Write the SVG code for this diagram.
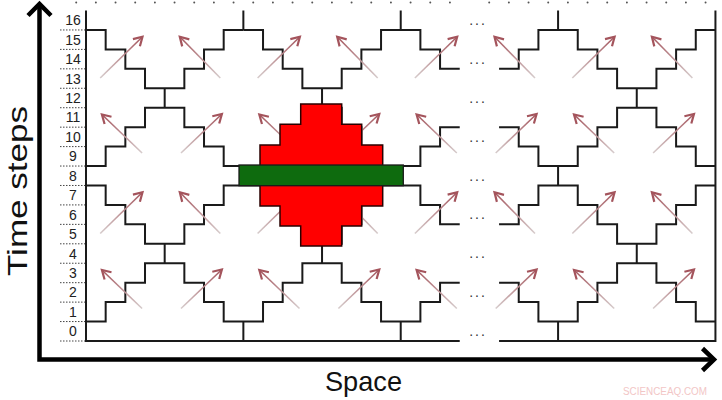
<svg xmlns="http://www.w3.org/2000/svg" width="722" height="400" viewBox="0 0 722 400">
<style>
.lat{fill:none;stroke:#1a1a1a;stroke-width:2;vector-effect:non-scaling-stroke;stroke-linejoin:miter}
.ax{fill:none;stroke:#000;stroke-width:4.5;stroke-linejoin:miter}
.num{font-family:"Liberation Sans",Arial,sans-serif;font-size:14px;fill:#222;text-anchor:middle}
.ell{font-family:"Liberation Sans",Arial,sans-serif;font-size:14px;fill:#333;text-anchor:middle;letter-spacing:2px}
.big{font-family:"Liberation Sans",Arial,sans-serif;font-size:28px;fill:#111}
.ur{stroke:url(#gUR);stroke-width:1.6;marker-end:url(#ah)}
.ul{stroke:url(#gUL);stroke-width:1.6;marker-end:url(#ah)}
</style>
<defs>
<linearGradient id="gUR" x1="0" y1="1" x2="1" y2="0"><stop offset="0" stop-color="#d6cccc"/><stop offset="1" stop-color="#a4545c"/></linearGradient>
<linearGradient id="gUL" x1="1" y1="1" x2="0" y2="0"><stop offset="0" stop-color="#d6cccc"/><stop offset="1" stop-color="#a4545c"/></linearGradient>
<marker id="ah" markerUnits="userSpaceOnUse" viewBox="-12 -7 14 14" refX="0" refY="0" markerWidth="14" markerHeight="14" orient="auto" overflow="visible">
<path d="M-8.5,-5 L0,0 L-8.5,5" fill="none" stroke="#a4545c" stroke-width="2.2"/>
</marker>
</defs>
<rect width="722" height="400" fill="#fff"/>

<g id="top-dots" stroke="#555" stroke-width="2" stroke-linecap="round">
<line x1="76.2" y1="2.5" x2="450" y2="2.5" stroke-dasharray="0 19.67"/>
<line x1="489.2" y1="2.5" x2="706" y2="2.5" stroke-dasharray="0 19.67"/>
</g>

<g id="row-labels">
<path d="M60,341H86M60,321.56H86M60,302.12H86M60,282.68H86M60,263.24H86M60,243.8H86M60,224.36H86M60,204.92H86M60,185.48H86M60,166.04H86M60,146.6H86M60,127.16H86M60,107.72H86M60,88.28H86M60,68.84H86M60,49.4H86M60,29.96H86" stroke="#444" stroke-width="1" stroke-dasharray="1.5 1.5" fill="none"/>
<text class="num" x="73" y="336.3">0</text>
<text class="num" x="73" y="316.8">1</text>
<text class="num" x="73" y="297.4">2</text>
<text class="num" x="73" y="278">3</text>
<text class="num" x="73" y="258.5">4</text>
<text class="num" x="73" y="239.1">5</text>
<text class="num" x="73" y="219.6">6</text>
<text class="num" x="73" y="200.2">7</text>
<text class="num" x="73" y="180.8">8</text>
<text class="num" x="73" y="161.3">9</text>
<text class="num" x="73" y="141.9">10</text>
<text class="num" x="73" y="122.4">11</text>
<text class="num" x="73" y="103">12</text>
<text class="num" x="73" y="83.6">13</text>
<text class="num" x="73" y="64.1">14</text>
<text class="num" x="73" y="44.7">15</text>
<text class="num" x="73" y="25.2">16</text>
</g>

<g id="lattice" transform="translate(86,341) scale(19.67,-19.44)">
<path class="lat" d="M0,16h1v-1h1v-1h1v-1h2v1h1v1h1v1h1M8,16h1v-1h1v-1h1v-1h2v1h1v1h1v1h1M24,16h1v-1h1v-1h1v-1h2v1h1v1h1v1h1
M0,9h1v1h1v1h1v1h2v-1h1v-1h1v-1h1M8,9h1v1h1v1h1v1h2v-1h1v-1h1v-1h1M24,9h1v1h1v1h1v1h2v-1h1v-1h1v-1h1
M0,8h1v-1h1v-1h1v-1h2v1h1v1h1v1h1M8,8h1v-1h1v-1h1v-1h2v1h1v1h1v1h1M24,8h1v-1h1v-1h1v-1h2v1h1v1h1v1h1
M0,1h1v1h1v1h1v1h2v-1h1v-1h1v-1h1M8,1h1v1h1v1h1v1h2v-1h1v-1h1v-1h1M24,1h1v1h1v1h1v1h2v-1h1v-1h1v-1h1
M16,16h1v-1h1v-1h1M21,14h1v1h1v1h1
M16,9h1v1h1v1h1M21,11h1v-1h1v-1h1
M16,8h1v-1h1v-1h1M21,6h1v1h1v1h1
M16,1h1v1h1v1h1M21,3h1v-1h1v-1h1
M4,12v1M12,12v1M28,12v1M4,4v1M12,4v1M28,4v1
M8,0v1M16,0v1M24,0v1M8,8v1M16,8v1M24,8v1M8,16v1M16,16v1M24,16v1
M0,17V0H19M21,0H32V17"/>
</g>

<g id="ellipses">
<text class="ell" x="478" y="25">...</text>
<text class="ell" x="478" y="63.8">...</text>
<text class="ell" x="478" y="102.7">...</text>
<text class="ell" x="478" y="141.6">...</text>
<text class="ell" x="478" y="180.5">...</text>
<text class="ell" x="478" y="219.3">...</text>
<text class="ell" x="478" y="258.2">...</text>
<text class="ell" x="478" y="297.1">...</text>
<text class="ell" x="478" y="336">...</text>
</g>

<g id="arrows">
<line class="ur" x1="100.2" y1="78" x2="142.5" y2="36.8"/>
<line class="ul" x1="220.3" y1="78" x2="179.8" y2="36.8"/>
<line class="ul" x1="142.1" y1="153" x2="101.9" y2="114.5"/>
<line class="ur" x1="181" y1="153" x2="221.9" y2="114"/>
<line class="ur" x1="100.2" y1="233.5" x2="142.5" y2="192.3"/>
<line class="ul" x1="220.3" y1="233.5" x2="179.8" y2="192.3"/>
<line class="ul" x1="142.1" y1="308.5" x2="101.9" y2="270"/>
<line class="ur" x1="181" y1="308.5" x2="221.9" y2="269.5"/>

<line class="ur" x1="257.6" y1="78" x2="299.9" y2="36.8"/>
<line class="ul" x1="377.7" y1="78" x2="337.2" y2="36.8"/>
<line class="ul" x1="299.5" y1="153" x2="259.3" y2="114.5"/>
<line class="ur" x1="338.4" y1="153" x2="379.3" y2="114"/>
<line class="ur" x1="257.6" y1="233.5" x2="299.9" y2="192.3"/>
<line class="ul" x1="377.7" y1="233.5" x2="337.2" y2="192.3"/>
<line class="ul" x1="299.5" y1="308.5" x2="259.3" y2="270"/>
<line class="ur" x1="338.4" y1="308.5" x2="379.3" y2="269.5"/>

<line class="ur" x1="414.9" y1="78" x2="457.2" y2="36.8"/>
<line class="ul" x1="535" y1="78" x2="494.5" y2="36.8"/>
<line class="ul" x1="456.8" y1="153" x2="416.6" y2="114.5"/>
<line class="ur" x1="495.7" y1="153" x2="536.6" y2="114"/>
<line class="ur" x1="414.9" y1="233.5" x2="457.2" y2="192.3"/>
<line class="ul" x1="535" y1="233.5" x2="494.5" y2="192.3"/>
<line class="ul" x1="456.8" y1="308.5" x2="416.6" y2="270"/>
<line class="ur" x1="495.7" y1="308.5" x2="536.6" y2="269.5"/>

<line class="ur" x1="572.3" y1="78" x2="614.6" y2="36.8"/>
<line class="ul" x1="692.4" y1="78" x2="651.9" y2="36.8"/>
<line class="ul" x1="614.2" y1="153" x2="574" y2="114.5"/>
<line class="ur" x1="653.1" y1="153" x2="694" y2="114"/>
<line class="ur" x1="572.3" y1="233.5" x2="614.6" y2="192.3"/>
<line class="ul" x1="692.4" y1="233.5" x2="651.9" y2="192.3"/>
<line class="ul" x1="614.2" y1="308.5" x2="574" y2="270"/>
<line class="ur" x1="653.1" y1="308.5" x2="694" y2="269.5"/>
</g>

<g id="red-region">
<polygon points="300.7,104 341.7,104 341.7,124.3 361.7,124.3 361.7,145 382.7,145 382.7,206 361.7,206 361.7,226 341.7,226 341.7,246 300.7,246 300.7,226 280,226 280,206 260,206 260,145 280,145 280,124.3 300.7,124.3" fill="#ff0000" stroke="#2a0000" stroke-width="1.5"/>
</g>
<g id="green-bar">
<rect x="239" y="165" width="164.3" height="20.7" fill="#0e6b0e" stroke="#1a1a1a" stroke-width="1.3"/>
</g>

<g id="axes">
<path class="ax" d="M39.5,4V359.5H714"/>
<path class="ax" d="M28,15.5L39.5,4L51,15.5"/>
<path class="ax" d="M702.5,348.5L714,359.5L702.5,370.5"/>
</g>

<text class="big" transform="translate(27,276) rotate(-90)" textLength="170" lengthAdjust="spacingAndGlyphs">Time steps</text>
<text class="big" x="325" y="391" textLength="77" lengthAdjust="spacingAndGlyphs">Space</text>
<text x="623" y="395" font-family="'Liberation Sans',Arial,sans-serif" font-size="10" fill="#f2c6c6" textLength="84" lengthAdjust="spacingAndGlyphs">SCIENCEAQ.COM</text>
</svg>
